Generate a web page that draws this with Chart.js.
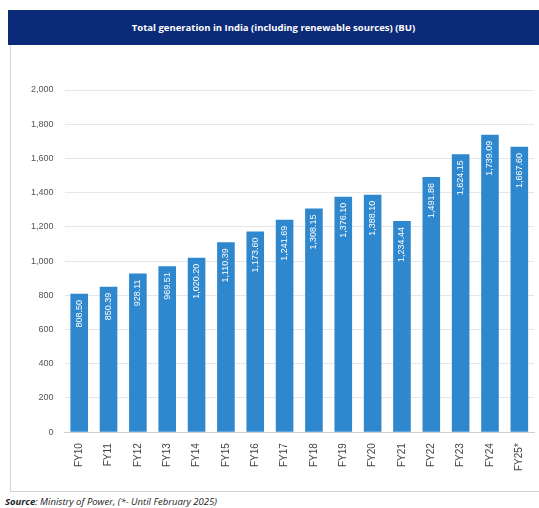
<!DOCTYPE html>
<html>
<head>
<meta charset="utf-8">
<script src="https://cdn.jsdelivr.net/npm/chart.js@4/dist/chart.umd.min.js"></script>
<style>
  body { margin: 0; background: #fff; width: 539px; height: 508px; position: relative; overflow: hidden; font-family: "Open Sans", "Liberation Sans", Arial, sans-serif; }
  #banner { position: absolute; left: 8px; top: 10px; width: 531px; height: 35px; background: #0b2a78;
            color: #fff; font-weight: bold; font-size: 9.5px; line-height: 35px; text-align: center; }
  #box { position: absolute; left: 10px; top: 45px; width: 529px; height: 446px;
         border-left: 1px solid #d4d4d4; border-bottom: 1px solid #d4d4d4; }
  #source { position: absolute; left: 5px; top: 495px; font-size: 9.5px; font-style: italic; color: #222; }
</style>
</head>
<body>
<div id="banner">Total generation in India (including renewable sources) (BU)</div>
<div id="box"><canvas id="genChart" width="529" height="446"></canvas></div>
<div id="source"><b>Source</b>: Ministry of Power, (*- Until February 2025)</div>
<script>
// values
const years = ['FY10', 'FY11', 'FY12', 'FY13', 'FY14', 'FY15', 'FY16', 'FY17',
               'FY18', 'FY19', 'FY20', 'FY21', 'FY22', 'FY23', 'FY24', 'FY25*'];
const generation = [808.50, 850.39, 928.11, 969.51, 1020.20, 1110.39, 1173.60, 1241.69,
                    1308.15, 1376.10, 1388.10, 1234.44, 1491.86, 1624.15, 1739.09, 1667.60];

const fmt = v => v.toLocaleString('en-US', { minimumFractionDigits: 2, maximumFractionDigits: 2 });

// white value labels written upwards inside the top of each bar
const barLabels = {
    id: 'barLabels',
    afterDatasetsDraw(chart) {
        const ctx = chart.ctx;
        const meta = chart.getDatasetMeta(0);
        ctx.save();
        ctx.fillStyle = '#fff';
        ctx.font = '9px "Liberation Sans", Arial, sans-serif';
        ctx.textAlign = 'right';
        ctx.textBaseline = 'middle';
        meta.data.forEach((bar, i) => {
            ctx.save();
            ctx.translate(bar.x, bar.y + 6);
            ctx.rotate(-Math.PI / 2);
            ctx.fillText(fmt(generation[i]), 0, 0);
            ctx.restore();
        });
        ctx.restore();
    }
};

const ctx = document.getElementById('genChart').getContext('2d');
new Chart(ctx, {
    type: 'bar',
    data: {
        labels: years,
        datasets: [{
            data: generation,
            backgroundColor: '#2f87cd',
            categoryPercentage: 0.6,
            barPercentage: 1
        }]
    },
    options: {
        responsive: false,
        animation: false,
        layout: { padding: { top: 45, right: 6, left: 9, bottom: 17 } },
        plugins: { legend: { display: false }, tooltip: { enabled: false } },
        scales: {
            x: {
                grid: { display: false },
                border: { color: '#d0d0d0' },
                ticks: {
                    color: '#444', minRotation: 90, maxRotation: 90, autoSkip: false,
                    font: { size: 10, family: '"Liberation Sans", Arial, sans-serif' }
                }
            },
            y: {
                min: 0, max: 2000,
                ticks: {
                    stepSize: 200, color: '#555', padding: 11,
                    font: { size: 9, family: '"Liberation Sans", Arial, sans-serif' },
                    callback: v => v.toLocaleString('en-US')
                },
                grid: { color: '#e6e6e6', drawTicks: false },
                border: { display: false }
            }
        }
    },
    plugins: [barLabels]
});
</script>
</body>
</html>
